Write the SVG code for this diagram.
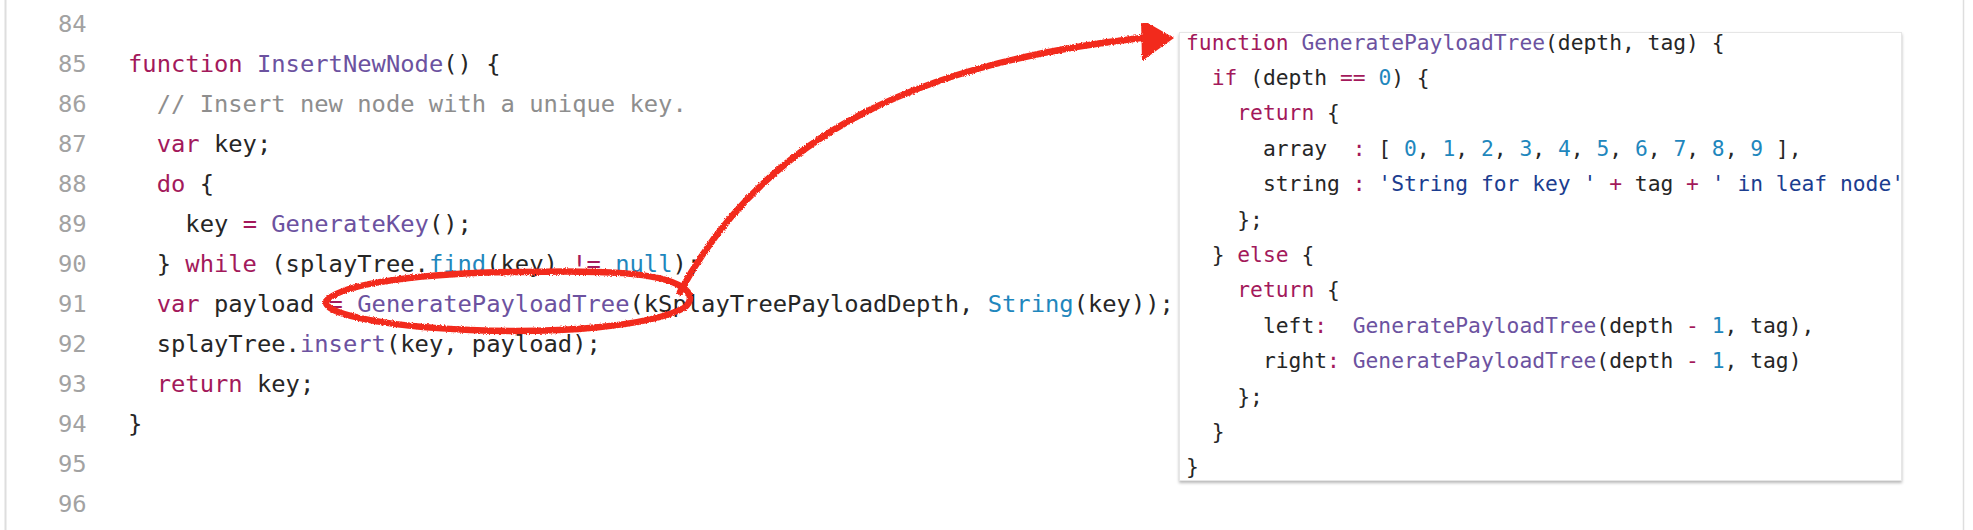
<svg xmlns="http://www.w3.org/2000/svg" width="1973" height="530" viewBox="0 0 1973 530">
<style>
text { font-family: "DejaVu Sans Mono", "Liberation Mono", monospace; white-space: pre; fill: #262626; }
.code { font-size: 23.8px; }
.box { font-size: 21.3px; }
.ln { fill: #a2a2a2; }
.k { fill: #a3195b; }
.f { fill: #6c52a0; }
.b { fill: #1f87bd; }
.c { fill: #8e8e8e; }
.s { fill: #1c3d8f; }
.red { fill: none; stroke: #f2291d; stroke-width: 6.5; stroke-linecap: round; stroke-linejoin: round; }
</style>
<defs>
<filter id="shadow" x="-5%" y="-5%" width="110%" height="115%">
<feDropShadow dx="0" dy="2" stdDeviation="1.6" flood-color="#000" flood-opacity="0.28"/>
</filter>
<filter id="rough" x="-5%" y="-5%" width="110%" height="110%">
<feTurbulence type="fractalNoise" baseFrequency="0.9" numOctaves="2" seed="3" result="noise"/>
<feDisplacementMap in="SourceGraphic" in2="noise" scale="3" xChannelSelector="R" yChannelSelector="G"/>
</filter>
<marker id="arrow" markerUnits="userSpaceOnUse" markerWidth="40" markerHeight="50" viewBox="0 -25 40 50" refX="2" refY="0" orient="auto">
<path d="M0,-19 L33,0 L1,23 Z" fill="#f2291d"/>
</marker>
</defs>
<rect x="0" y="0" width="1973" height="530" fill="#ffffff"/>
<line x1="5.5" y1="0" x2="5.5" y2="530" stroke="#dedede" stroke-width="2"/>
<line x1="1963.5" y1="0" x2="1963.5" y2="530" stroke="#dedede" stroke-width="1.5"/>

<g id="left-code" class="code" xml:space="preserve">
<text class="ln" x="58" y="31.7">84</text>
<text class="ln" x="58" y="71.7">85</text>
<text class="ln" x="58" y="111.7">86</text>
<text class="ln" x="58" y="151.7">87</text>
<text class="ln" x="58" y="191.7">88</text>
<text class="ln" x="58" y="231.7">89</text>
<text class="ln" x="58" y="271.7">90</text>
<text class="ln" x="58" y="311.7">91</text>
<text class="ln" x="58" y="351.7">92</text>
<text class="ln" x="58" y="391.7">93</text>
<text class="ln" x="58" y="431.7">94</text>
<text class="ln" x="58" y="471.7">95</text>
<text class="ln" x="58" y="511.7">96</text>
<text x="128" y="71.7"><tspan class="k">function</tspan> <tspan class="f">InsertNewNode</tspan>() {</text>
<text x="128" y="111.7">  <tspan class="c">// Insert new node with a unique key.</tspan></text>
<text x="128" y="151.7">  <tspan class="k">var</tspan> key;</text>
<text x="128" y="191.7">  <tspan class="k">do</tspan> {</text>
<text x="128" y="231.7">    key <tspan class="k">=</tspan> <tspan class="f">GenerateKey</tspan>();</text>
<text x="128" y="271.7">  } <tspan class="k">while</tspan> (splayTree.<tspan class="b">find</tspan>(key) <tspan class="k">!=</tspan> <tspan class="b">null</tspan>);</text>
<text x="128" y="311.7">  <tspan class="k">var</tspan> payload <tspan class="k">=</tspan> <tspan class="f">GeneratePayloadTree</tspan>(kSplayTreePayloadDepth, <tspan class="b">String</tspan>(key));</text>
<text x="128" y="351.7">  splayTree.<tspan class="f">insert</tspan>(key, payload);</text>
<text x="128" y="391.7">  <tspan class="k">return</tspan> key;</text>
<text x="128" y="431.7">}</text>
</g>

<g id="right-box" class="box" xml:space="preserve">
<rect x="1179.5" y="32.5" width="722" height="448" fill="#ffffff" stroke="#e6e6e6" stroke-width="1" filter="url(#shadow)"/>
<text x="1186" y="49.5"><tspan class="k">function</tspan> <tspan class="f">GeneratePayloadTree</tspan>(depth, tag) {</text>
<text x="1186" y="84.9">  <tspan class="k">if</tspan> (depth <tspan class="k">==</tspan> <tspan class="b">0</tspan>) {</text>
<text x="1186" y="120.3">    <tspan class="k">return</tspan> {</text>
<text x="1186" y="155.7">      array  <tspan class="k">:</tspan> [ <tspan class="b">0</tspan>, <tspan class="b">1</tspan>, <tspan class="b">2</tspan>, <tspan class="b">3</tspan>, <tspan class="b">4</tspan>, <tspan class="b">5</tspan>, <tspan class="b">6</tspan>, <tspan class="b">7</tspan>, <tspan class="b">8</tspan>, <tspan class="b">9</tspan> ],</text>
<text x="1186" y="191.1">      string <tspan class="k">:</tspan> <tspan class="s">'String for key '</tspan> <tspan class="k">+</tspan> tag <tspan class="k">+</tspan> <tspan class="s">' in leaf node'</tspan></text>
<text x="1186" y="226.5">    };</text>
<text x="1186" y="261.9">  } <tspan class="k">else</tspan> {</text>
<text x="1186" y="297.3">    <tspan class="k">return</tspan> {</text>
<text x="1186" y="332.7">      left<tspan class="k">:</tspan>  <tspan class="f">GeneratePayloadTree</tspan>(depth <tspan class="k">-</tspan> <tspan class="b">1</tspan>, tag),</text>
<text x="1186" y="368.1">      right<tspan class="k">:</tspan> <tspan class="f">GeneratePayloadTree</tspan>(depth <tspan class="k">-</tspan> <tspan class="b">1</tspan>, tag)</text>
<text x="1186" y="403.5">    };</text>
<text x="1186" y="438.9">  }</text>
<text x="1186" y="474.3">}</text>
</g>

<g id="connectors" filter="url(#rough)">
<path class="red" d="M 682 287 C 660 272, 600 270, 520 272 C 430 273, 345 282, 327 300 C 318 313, 380 326, 470 330 C 560 334, 650 326, 684 308 C 694 300, 690 292, 682 287"/>
<path class="red" d="M 680 292 C 766 132, 925 62, 1141 38 L 1143 38" marker-end="url(#arrow)"/>
</g>
</svg>
